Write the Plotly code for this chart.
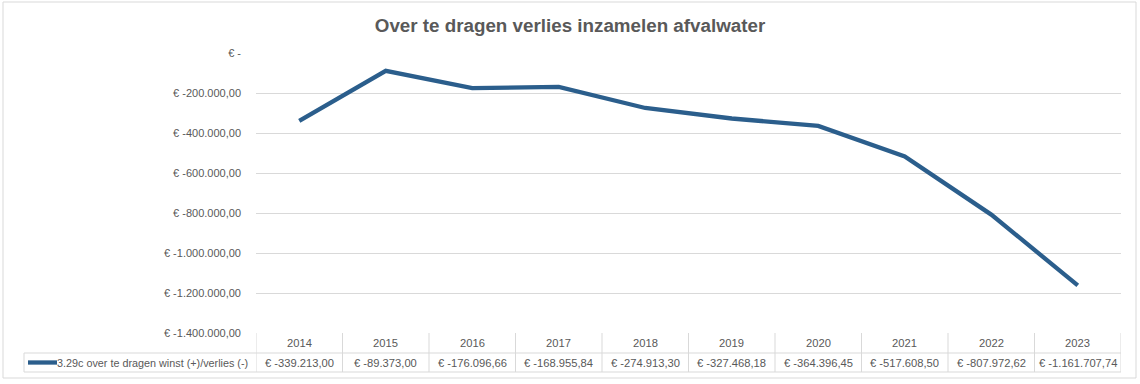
import plotly.graph_objects as go

years = ["2014", "2015", "2016", "2017", "2018", "2019", "2020", "2021", "2022", "2023"]
values = [-339213.00, -89373.00, -176096.66, -168955.84, -274913.30,
          -327468.18, -364396.45, -517608.50, -807972.62, -1161707.74]
series_name = "3.29c over te dragen winst (+)/verlies (-)"
title_text = "Over te dragen verlies inzamelen afvalwater"
y_ticks = [0, -200000, -400000, -600000, -800000, -1000000, -1200000, -1400000]


def eur(v):
    if v == 0:
        return "€ -"
    s = f"{abs(v):,.2f}"
    s = s.replace(",", "X").replace(".", ",").replace("X", ".")
    return "€ " + ("-" if v < 0 else "") + s


W, H = 1140, 384
ML, MR, MT, MB = 256, 19, 53, 51
PW = W - ML - MR
PH = H - MT - MB

LINE = "#D9D9D9"
TXT = "#595959"
BLUE = "#2B5E8C"
FONT = "Liberation Sans"


def px_x(p):
    return (p - ML) / PW


def px_y(p):
    return (H - MB - p) / PH


fig = go.Figure()
fig.add_trace(go.Scatter(
    x=years, y=values, mode="lines",
    line=dict(color=BLUE, width=4.3),
    name=series_name, showlegend=False, hoverinfo="x+y",
))

shapes = []
annotations = []

row_top = px_y(333)
row_mid = px_y(353)
row_bot = px_y(372)

shapes.append(dict(type="line", xref="x", yref="paper", x0=-0.5, x1=len(years) - 0.5,
                   y0=row_mid, y1=row_mid, line=dict(color=LINE, width=1)))
shapes.append(dict(type="line", xref="paper", yref="paper", x0=px_x(24), x1=1,
                   y0=row_bot, y1=row_bot, line=dict(color=LINE, width=1)))
shapes.append(dict(type="line", xref="paper", yref="paper", x0=px_x(24), x1=0,
                   y0=row_mid, y1=row_mid, line=dict(color=LINE, width=1)))
shapes.append(dict(type="line", xref="paper", yref="paper", x0=px_x(24), x1=px_x(24),
                   y0=row_mid, y1=row_bot, line=dict(color=LINE, width=1)))
for i in range(len(years) + 1):
    shapes.append(dict(type="line", xref="x", yref="paper", x0=i - 0.5, x1=i - 0.5,
                       y0=row_top, y1=row_bot, line=dict(color=LINE, width=1)))

for i, (yr, v) in enumerate(zip(years, values)):
    annotations.append(dict(x=i, xref="x", y=(row_top + row_mid) / 2, yref="paper",
                            text=yr, showarrow=False, yanchor="middle",
                            font=dict(family=FONT, size=11.2, color=TXT)))
    annotations.append(dict(x=i, xref="x", y=(row_mid + row_bot) / 2, yref="paper",
                            text=eur(v), showarrow=False, yanchor="middle",
                            font=dict(family=FONT, size=11.2, color=TXT)))

shapes.append(dict(type="line", xref="paper", yref="paper", x0=px_x(28), x1=px_x(57),
                   y0=(row_mid + row_bot) / 2, y1=(row_mid + row_bot) / 2,
                   line=dict(color=BLUE, width=4.3)))
annotations.append(dict(x=px_x(57), xref="paper", y=(row_mid + row_bot) / 2, yref="paper",
                        text=series_name, showarrow=False, xanchor="left", yanchor="middle",
                        xshift=-2,
                        font=dict(family=FONT, size=10.8, color=TXT)))

shapes.append(dict(type="rect", xref="paper", yref="paper",
                   x0=px_x(3), x1=px_x(1136), y0=px_y(2), y1=px_y(378),
                   line=dict(color=LINE, width=1), layer="below"))

fig.update_layout(
    width=W, height=H,
    margin=dict(l=ML, r=MR, t=MT, b=MB),
    paper_bgcolor="white", plot_bgcolor="white",
    title=dict(text=title_text, x=0.5, xref="container", xanchor="center",
               y=1 - 25 / H, yanchor="middle",
               font=dict(family=FONT, size=18.8, color=TXT, weight="bold")),
    xaxis=dict(type="category", range=[-0.5, len(years) - 0.5], showticklabels=False,
               showgrid=False, zeroline=False, showline=False, ticks=""),
    yaxis=dict(range=[-1400000, 0], tickvals=y_ticks, ticktext=[eur(t) for t in y_ticks],
               showgrid=True, gridcolor=LINE, gridwidth=1, zeroline=False, showline=False,
               ticks="", ticklabelstandoff=14,
               tickfont=dict(family=FONT, size=11, color=TXT)),
    shapes=shapes, annotations=annotations,
    showlegend=False,
)

fig.write_html("out.html", config={"displayModeBar": False},
               post_script="document.body.style.margin='0';")
